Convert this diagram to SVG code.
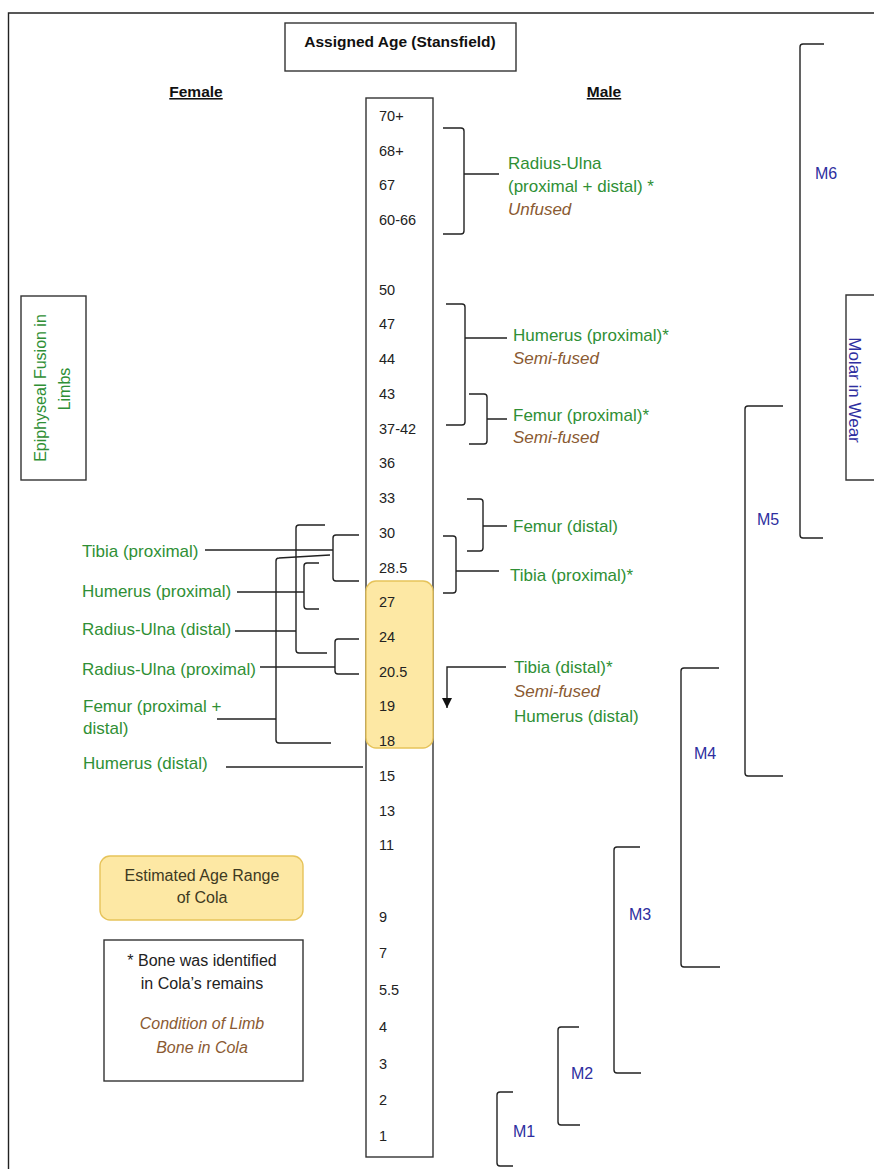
<svg xmlns="http://www.w3.org/2000/svg" width="874" height="1169" viewBox="0 0 874 1169">
<style>
text{font-family:"Liberation Sans",Arial,sans-serif;}
.age{font-size:14.5px;fill:#222;}
.g{font-size:17px;fill:#2f8f35;}
.b{font-size:17px;fill:#8a5a32;font-style:italic;}
.m{font-size:16px;fill:#2e2ea0;}
.hd{font-size:15.5px;font-weight:bold;fill:#111;}
.ln{fill:none;stroke:#222;stroke-width:1.4;}
.box{fill:#fff;stroke:#333;stroke-width:1.4;}
.yel{fill:#fde8a4;stroke:#e6c35a;stroke-width:1.4;}
</style>
<defs>
<marker id="ah" viewBox="0 0 10 10" refX="10" refY="5" markerWidth="10" markerHeight="10" markerUnits="userSpaceOnUse" orient="auto">
<path d="M0,0 L10,5 L0,10 Z" fill="#111"/>
</marker>
</defs>
<rect width="874" height="1169" fill="#fff"/>
<path class="ln" d="M8.5,1169 V13 H874"/>

<g id="title">
<rect class="box" x="285" y="23" width="231" height="48"/>
<text class="hd" x="400" y="47" text-anchor="middle">Assigned Age (Stansfield)</text>
</g>
<g id="female-heading"><text class="hd" x="196" y="97" text-anchor="middle" text-decoration="underline">Female</text></g>
<g id="male-heading"><text class="hd" x="604" y="97" text-anchor="middle" text-decoration="underline">Male</text></g>

<g id="epiphyseal-box">
<rect class="box" x="21" y="296" width="65" height="184"/>
<text class="g" transform="translate(46,388) rotate(-90)" text-anchor="middle" style="font-size:16px">Epiphyseal Fusion in</text>
<text class="g" transform="translate(70,389) rotate(-90)" text-anchor="middle" style="font-size:16px">Limbs</text>
</g>

<g id="molar-box">
<path class="ln" style="stroke:#333" d="M874,295 H846 V480 H874"/>
<text class="m" transform="translate(849,390) rotate(90)" text-anchor="middle" style="font-size:17px">Molar in Wear</text>
</g>

<g id="age-column">
<rect class="box" x="366" y="98" width="67" height="1059"/>
</g>
<g id="cola-range">
<rect class="yel" x="366" y="581" width="67" height="167" rx="10" ry="10"/>
</g>
<g id="age-labels">
<text class="age" x="379" y="121">70+</text>
<text class="age" x="379" y="156">68+</text>
<text class="age" x="379" y="190">67</text>
<text class="age" x="379" y="225">60-66</text>
<text class="age" x="379" y="295">50</text>
<text class="age" x="379" y="329">47</text>
<text class="age" x="379" y="364">44</text>
<text class="age" x="379" y="399">43</text>
<text class="age" x="379" y="434">37-42</text>
<text class="age" x="379" y="468">36</text>
<text class="age" x="379" y="503">33</text>
<text class="age" x="379" y="538">30</text>
<text class="age" x="379" y="573">28.5</text>
<text class="age" x="379" y="607">27</text>
<text class="age" x="379" y="642">24</text>
<text class="age" x="379" y="677">20.5</text>
<text class="age" x="379" y="711">19</text>
<text class="age" x="379" y="746">18</text>
<text class="age" x="379" y="781">15</text>
<text class="age" x="379" y="816">13</text>
<text class="age" x="379" y="850">11</text>
<text class="age" x="379" y="922">9</text>
<text class="age" x="379" y="958">7</text>
<text class="age" x="379" y="995">5.5</text>
<text class="age" x="379" y="1032">4</text>
<text class="age" x="379" y="1069">3</text>
<text class="age" x="379" y="1105">2</text>
<text class="age" x="379" y="1141">1</text>
</g>

<g id="connectors">
<path class="ln" d="M443,128 H461 Q464,128 464,131 V231 Q464,234 461,234 H443 M464,174 H499"/>
<path class="ln" d="M446,304 H462 Q465,304 465,307 V422 Q465,425 462,425 H446 M465,338 H507"/>
<path class="ln" d="M469,394 H484 Q487,394 487,397 V441 Q487,444 484,444 H469 M487,419 H507"/>
<path class="ln" d="M467,499 H480 Q483,499 483,502 V548 Q483,551 480,551 H467 M483,526 H507"/>
<path class="ln" d="M443,536 H453 Q456,536 456,539 V590 Q456,593 453,593 H443 M456,571 H499"/>
<path class="ln" d="M506,667 H447 V708" marker-end="url(#ah)"/>
<path class="ln" d="M325,525 H299 Q296,525 296,528 V650 Q296,653 299,653 H327 M235,631 H296"/>
<path class="ln" d="M359,535 H336 Q333,535 333,538 V578 Q333,581 336,581 H359 M205,550 H333"/>
<path class="ln" d="M330,555 L279,558 Q276,558 276,561 V740 Q276,743 279,743 H331 M217,719 H276"/>
<path class="ln" d="M319,563 H307 Q304,563 304,566 V606 Q304,609 307,609 H319 M237,592 H304"/>
<path class="ln" d="M359,639 H338 Q335,639 335,642 V671 Q335,674 338,674 H359 M260,667 H335"/>
<path class="ln" d="M226,767 H363"/>
<path class="ln" d="M824,44 H803 Q800,44 800,47 V535 Q800,538 803,538 H823"/>
<path class="ln" d="M783,406 H748 Q745,406 745,409 V773 Q745,776 748,776 H783"/>
<path class="ln" d="M719,668 H684 Q681,668 681,671 V964 Q681,967 684,967 H720"/>
<path class="ln" d="M640,847 H617 Q614,847 614,850 V1070 Q614,1073 617,1073 H641"/>
<path class="ln" d="M579,1027 H561 Q558,1027 558,1030 V1122 Q558,1125 561,1125 H580"/>
<path class="ln" d="M513,1092 H500 Q497,1092 497,1095 V1163 Q497,1166 500,1166 H513"/>
</g>

<g id="male-labels">
<g id="m-radius-ulna"><text class="g" x="508" y="169">Radius-Ulna</text><text class="g" x="508" y="192">(proximal + distal) *</text><text class="b" x="508" y="215">Unfused</text></g>
<g id="m-humerus-proximal"><text class="g" x="513" y="341">Humerus (proximal)*</text><text class="b" x="513" y="364">Semi-fused</text></g>
<g id="m-femur-proximal"><text class="g" x="513" y="421">Femur (proximal)*</text><text class="b" x="513" y="443">Semi-fused</text></g>
<g id="m-femur-distal"><text class="g" x="513" y="532">Femur (distal)</text></g>
<g id="m-tibia-proximal"><text class="g" x="510" y="581">Tibia (proximal)*</text></g>
<g id="m-tibia-distal"><text class="g" x="514" y="673">Tibia (distal)*</text><text class="b" x="514" y="697">Semi-fused</text><text class="g" x="514" y="722">Humerus (distal)</text></g>
</g>

<g id="female-labels">
<g id="f-tibia-proximal"><text class="g" x="82" y="557">Tibia (proximal)</text></g>
<g id="f-humerus-proximal"><text class="g" x="82" y="597">Humerus (proximal)</text></g>
<g id="f-radius-ulna-distal"><text class="g" x="82" y="635">Radius-Ulna (distal)</text></g>
<g id="f-radius-ulna-proximal"><text class="g" x="82" y="675">Radius-Ulna (proximal)</text></g>
<g id="f-femur"><text class="g" x="83" y="712">Femur (proximal +</text><text class="g" x="83" y="734">distal)</text></g>
<g id="f-humerus-distal"><text class="g" x="83" y="769">Humerus (distal)</text></g>
</g>

<g id="molar-labels">
<text class="m" x="815" y="179">M6</text>
<text class="m" x="757" y="525">M5</text>
<text class="m" x="694" y="759">M4</text>
<text class="m" x="629" y="920">M3</text>
<text class="m" x="571" y="1079">M2</text>
<text class="m" x="513" y="1137">M1</text>
</g>

<g id="estimated-box">
<rect class="yel" x="100" y="856" width="203" height="64" rx="10" ry="10"/>
<text x="202" y="881" text-anchor="middle" style="font-size:16px;fill:#3e3a22">Estimated Age Range</text>
<text x="202" y="903" text-anchor="middle" style="font-size:16px;fill:#3e3a22">of Cola</text>
</g>

<g id="legend">
<rect class="box" x="104" y="940" width="199" height="141"/>
<text x="202" y="966" text-anchor="middle" style="font-size:16px;fill:#222">* Bone was identified</text>
<text x="202" y="989" text-anchor="middle" style="font-size:16px;fill:#222">in Cola’s remains</text>
<text class="b" x="202" y="1029" text-anchor="middle" style="font-size:16px">Condition of Limb</text>
<text class="b" x="202" y="1053" text-anchor="middle" style="font-size:16px">Bone in Cola</text>
</g>
</svg>
